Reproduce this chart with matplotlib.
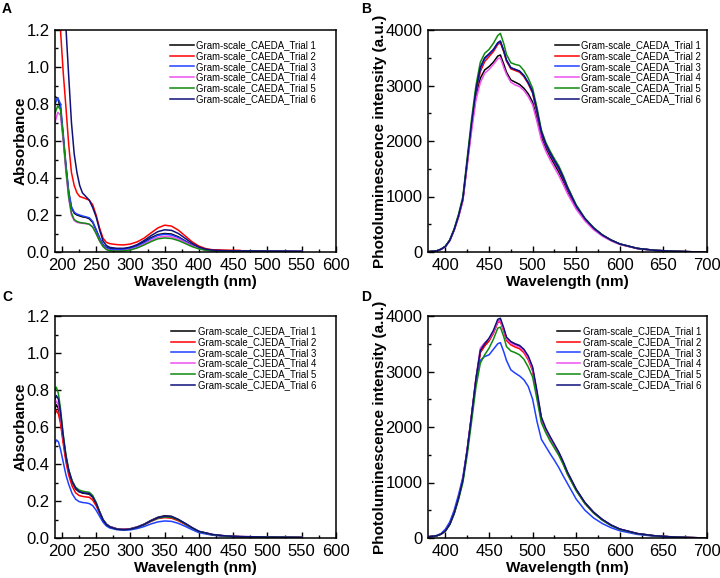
import numpy as np
import matplotlib
matplotlib.use('Agg')
import matplotlib.pyplot as plt
from matplotlib.ticker import MultipleLocator

plt.rcParams['font.family'] = ['Liberation Sans', 'DejaVu Sans']

# === DATA ===
nan = np.nan
colores = ['#000000', '#ff0000', '#2040ff', '#f050f0', '#108a10', '#10107a']

# A: UV-Vis, CAEDA
wl_a = [190, 194, 198, 202, 206, 210, 214, 218, 222, 226, 230, 235, 240, 245, 250, 255, 260, 265, 270,
        280, 290, 300, 310, 320, 330, 340, 350, 360, 370, 380, 390, 400, 410, 420, 440, 460, 500, 550]
caeda_uv_1 = [0.84, 0.83, 0.78, 0.62, 0.46, 0.32, 0.24, 0.21, 0.20, 0.195, 0.19, 0.187, 0.18, 0.16, 0.12, 0.075,
              0.04, 0.025, 0.018, 0.015, 0.016, 0.022, 0.035, 0.055, 0.077, 0.094, 0.10, 0.097, 0.082, 0.06,
              0.038, 0.022, 0.012, 0.008, 0.006, 0.005, 0.004, 0.003]
caeda_uv_2 = [1.6, 1.38, 1.2, 0.97, 0.78, 0.58, 0.43, 0.36, 0.32, 0.30, 0.295, 0.288, 0.28, 0.255, 0.20, 0.13,
              0.075, 0.052, 0.045, 0.04, 0.038, 0.043, 0.055, 0.075, 0.103, 0.13, 0.145, 0.14, 0.118, 0.087,
              0.055, 0.032, 0.018, 0.012, 0.01, 0.009, nan, nan]
caeda_uv_3 = [0.80, 0.835, 0.80, 0.64, 0.47, 0.33, 0.245, 0.215, 0.205, 0.20, 0.195, 0.19, 0.185, 0.165, 0.12,
              0.075, 0.04, 0.022, 0.015, 0.012, 0.013, 0.02, 0.032, 0.05, 0.072, 0.09, 0.096, 0.092, 0.078,
              0.057, 0.036, 0.02, 0.011, 0.007, 0.005, 0.004, 0.004, 0.003]
caeda_uv_4 = [0.70, 0.755, 0.74, 0.60, 0.43, 0.29, 0.20, 0.17, 0.16, 0.157, 0.155, 0.153, 0.15, 0.135, 0.10,
              0.06, 0.03, 0.015, 0.008, 0.006, 0.007, 0.013, 0.025, 0.042, 0.062, 0.079, 0.085, 0.082, 0.07,
              0.052, 0.033, 0.019, 0.01, 0.007, 0.005, 0.004, 0.003, 0.003]
caeda_uv_5 = [0.75, 0.79, 0.77, 0.62, 0.45, 0.30, 0.21, 0.175, 0.165, 0.16, 0.157, 0.155, 0.15, 0.135, 0.10,
              0.06, 0.03, 0.013, 0.007, 0.005, 0.006, 0.011, 0.022, 0.038, 0.056, 0.071, 0.076, 0.073, 0.062,
              0.046, 0.029, 0.017, 0.009, 0.006, 0.004, 0.004, 0.003, 0.002]
caeda_uv_6 = [1.9, 1.65, 1.45, 1.32, 1.21, 0.95, 0.70, 0.53, 0.43, 0.36, 0.32, 0.30, 0.28, 0.24, 0.19, 0.12,
              0.06, 0.035, 0.025, 0.02, 0.02, 0.026, 0.04, 0.062, 0.088, 0.11, 0.12, 0.117, 0.10, 0.074,
              0.047, 0.027, 0.015, 0.01, 0.007, 0.006, 0.005, 0.004]

# C: UV-Vis, CJEDA
wl_c = [190, 192, 195, 198, 202, 206, 210, 215, 220, 225, 230, 235, 240, 245, 250, 255, 260, 265, 270, 280,
        290, 300, 310, 320, 330, 340, 350, 360, 370, 380, 390, 400, 420, 440, 460, 500, 550]
cjeda_uv_1 = [0.70, 0.72, 0.70, 0.64, 0.53, 0.43, 0.36, 0.30, 0.265, 0.25, 0.243, 0.24, 0.237, 0.22, 0.185,
              0.14, 0.10, 0.075, 0.062, 0.05, 0.047, 0.05, 0.06, 0.075, 0.095, 0.112, 0.12, 0.117, 0.1, 0.078,
              0.055, 0.035, 0.018, 0.01, 0.007, 0.005, 0.003]
cjeda_uv_2 = [0.67, 0.69, 0.67, 0.62, 0.51, 0.41, 0.34, 0.28, 0.245, 0.23, 0.225, 0.222, 0.22, 0.205, 0.175,
              0.135, 0.097, 0.073, 0.06, 0.05, 0.047, 0.05, 0.058, 0.072, 0.09, 0.105, 0.11, 0.107, 0.093,
              0.073, 0.052, 0.033, 0.017, 0.01, 0.007, 0.005, 0.003]
cjeda_uv_3 = [0.51, 0.53, 0.52, 0.48, 0.41, 0.34, 0.29, 0.24, 0.21, 0.197, 0.192, 0.19, 0.186, 0.175, 0.15,
              0.118, 0.086, 0.065, 0.054, 0.045, 0.042, 0.044, 0.051, 0.062, 0.076, 0.087, 0.092, 0.09, 0.079,
              0.063, 0.045, 0.029, 0.015, 0.009, 0.006, 0.004, 0.003]
cjeda_uv_4 = [0.72, 0.74, 0.72, 0.66, 0.54, 0.44, 0.365, 0.305, 0.27, 0.255, 0.248, 0.245, 0.242, 0.225, 0.19,
              0.143, 0.1, 0.075, 0.062, 0.05, 0.047, 0.05, 0.06, 0.074, 0.093, 0.109, 0.116, 0.114, 0.099,
              0.078, 0.056, 0.036, 0.019, 0.011, 0.008, 0.005, 0.003]
cjeda_uv_5 = [0.80, 0.815, 0.78, 0.70, 0.56, 0.45, 0.37, 0.31, 0.275, 0.26, 0.253, 0.25, 0.247, 0.23, 0.193,
              0.145, 0.1, 0.074, 0.06, 0.048, 0.045, 0.048, 0.058, 0.072, 0.091, 0.107, 0.114, 0.112, 0.097,
              0.076, 0.054, 0.035, 0.018, 0.01, 0.007, 0.005, 0.003]
cjeda_uv_6 = [0.75, 0.77, 0.75, 0.68, 0.55, 0.44, 0.365, 0.305, 0.27, 0.252, 0.245, 0.242, 0.24, 0.222, 0.187,
              0.14, 0.098, 0.073, 0.06, 0.048, 0.045, 0.048, 0.058, 0.073, 0.093, 0.11, 0.118, 0.116, 0.1,
              0.079, 0.056, 0.036, 0.019, 0.011, 0.008, 0.005, 0.003]

# B y D: fotoluminiscencia
wl_pl = [380, 390, 395, 400, 405, 410, 415, 420, 425, 430, 435, 440, 445, 450, 455, 460, 463, 467, 470, 475,
         480, 485, 490, 495, 500, 505, 510, 515, 520, 525, 530, 535, 540, 550, 560, 570, 580, 590, 600, 620,
         640, 660, 680, 700]
caeda_pl_1 = [5, 20, 50, 100, 210, 400, 640, 940, 1600, 2250, 2800, 3130, 3280, 3340, 3420, 3530, 3550, 3380,
              3240, 3100, 3060, 3020, 2950, 2850, 2700, 2400, 2080, 1880, 1720, 1580, 1440, 1280, 1100, 800,
              580, 420, 300, 210, 140, 65, 30, 15, 5, 0]
caeda_pl_2 = [5, 20, 50, 100, 210, 400, 640, 950, 1620, 2280, 2880, 3250, 3430, 3520, 3610, 3740, 3770, 3600,
              3440, 3300, 3270, 3240, 3160, 3030, 2860, 2510, 2130, 1920, 1760, 1620, 1490, 1320, 1130, 820,
              590, 430, 305, 215, 145, 65, 30, 15, 5, 0]
caeda_pl_3 = [5, 20, 50, 100, 210, 400, 650, 960, 1630, 2300, 2900, 3300, 3480, 3560, 3640, 3760, 3800, 3620,
              3460, 3320, 3290, 3260, 3180, 3050, 2880, 2530, 2150, 1930, 1770, 1630, 1500, 1330, 1140, 820,
              590, 430, 305, 215, 145, 65, 30, 15, 5, 0]
caeda_pl_4 = [5, 18, 45, 95, 200, 390, 620, 920, 1560, 2180, 2740, 3050, 3220, 3290, 3380, 3480, 3500, 3320,
              3200, 3060, 3010, 2980, 2910, 2800, 2650, 2350, 2020, 1820, 1660, 1520, 1380, 1220, 1050, 770,
              560, 400, 285, 200, 135, 60, 28, 14, 5, 0]
caeda_pl_5 = [5, 20, 52, 105, 220, 420, 680, 1000, 1700, 2400, 3000, 3420, 3580, 3650, 3760, 3900, 3940, 3750,
              3560, 3410, 3380, 3360, 3270, 3130, 2950, 2600, 2200, 1980, 1820, 1680, 1550, 1380, 1180, 850,
              610, 440, 310, 215, 145, 65, 30, 15, 5, 0]
caeda_pl_6 = [5, 20, 50, 100, 210, 400, 650, 960, 1640, 2320, 2920, 3330, 3500, 3570, 3650, 3770, 3800, 3620,
              3460, 3320, 3290, 3260, 3180, 3050, 2890, 2550, 2170, 1950, 1790, 1650, 1520, 1350, 1160, 830,
              600, 430, 305, 215, 145, 65, 30, 15, 5, 0]

cjeda_pl_1 = [20, 40, 70, 130, 250, 450, 720, 1050, 1580, 2200, 2850, 3350, 3470, 3560, 3700, 3900, 3930, 3750,
              3600, 3520, 3480, 3450, 3380, 3250, 3050, 2600, 2150, 1950, 1800, 1660, 1530, 1360, 1170, 870,
              630, 460, 330, 230, 160, 80, 40, 20, 8, 0]
cjeda_pl_2 = [20, 40, 70, 130, 250, 450, 720, 1050, 1580, 2200, 2850, 3340, 3460, 3550, 3690, 3880, 3900, 3720,
              3560, 3480, 3440, 3410, 3340, 3210, 3010, 2570, 2120, 1930, 1780, 1640, 1510, 1340, 1150, 860,
              620, 450, 325, 225, 155, 78, 38, 19, 8, 0]
cjeda_pl_3 = [25, 45, 80, 160, 290, 500, 780, 1100, 1600, 2200, 2800, 3200, 3270, 3300, 3400, 3500, 3520, 3350,
              3200, 3030, 2970, 2920, 2850, 2730, 2500, 2100, 1780, 1650, 1520, 1400, 1270, 1120, 980, 700,
              500, 360, 260, 185, 130, 65, 32, 16, 6, 0]
cjeda_pl_4 = [20, 40, 70, 130, 250, 450, 720, 1060, 1600, 2230, 2880, 3420, 3520, 3580, 3710, 3900, 3920, 3740,
              3590, 3510, 3470, 3440, 3370, 3240, 3040, 2600, 2150, 1950, 1800, 1660, 1530, 1360, 1170, 870,
              630, 460, 330, 230, 160, 80, 40, 20, 8, 0]
cjeda_pl_5 = [20, 40, 70, 125, 240, 430, 690, 1000, 1500, 2100, 2720, 3150, 3300, 3420, 3580, 3780, 3800, 3620,
              3450, 3370, 3340, 3300, 3220, 3080, 2900, 2500, 2080, 1900, 1750, 1620, 1490, 1330, 1150, 850,
              620, 450, 320, 225, 155, 78, 38, 19, 8, 0]
cjeda_pl_6 = [20, 40, 70, 130, 250, 450, 720, 1050, 1590, 2220, 2870, 3380, 3500, 3600, 3740, 3940, 3960, 3780,
              3620, 3540, 3500, 3470, 3400, 3280, 3080, 2650, 2180, 1980, 1830, 1690, 1550, 1380, 1190, 880,
              640, 465, 335, 235, 162, 80, 40, 20, 8, 0]

etiquetas_caeda = ['Gram-scale_CAEDA_Trial %d' % i for i in range(1, 7)]
etiquetas_cjeda = ['Gram-scale_CJEDA_Trial %d' % i for i in range(1, 7)]


# === FUNCION DE PANEL ===
def dibujar_panel(ax, x, series, etiquetas, xlim, xmaj, ylim, ymaj, ylabel, yfmt, leg_anchor):
    for s, c, lab in zip(series, colores, etiquetas):
        ax.plot(x, s, color=c, lw=1.1, label=lab)
    ax.set_xlim(*xlim)
    ax.set_ylim(*ylim)
    ax.xaxis.set_major_locator(MultipleLocator(xmaj))
    ax.xaxis.set_minor_locator(MultipleLocator(xmaj / 2))
    ax.yaxis.set_major_locator(MultipleLocator(ymaj))
    ax.yaxis.set_minor_locator(MultipleLocator(ymaj / 2))
    ax.yaxis.set_major_formatter(plt.FuncFormatter(yfmt))
    ax.tick_params(which='both', direction='in', top=False, right=False, labelsize=12, width=1.0, pad=4)
    ax.tick_params(which='major', length=4.5)
    ax.tick_params(which='minor', length=2.5)
    for sp in ax.spines.values():
        sp.set_linewidth(1.1)
    ax.set_xlabel('Wavelength (nm)', fontsize=11, fontweight='bold', labelpad=2)
    ax.set_ylabel(ylabel, fontsize=11, fontweight='bold', labelpad=-1)
    ax.legend(loc='upper right', bbox_to_anchor=leg_anchor, frameon=False, fontsize=6.9,
              handlelength=2.5, handletextpad=0.25, labelspacing=0.08, borderaxespad=0.2)


fig = plt.figure(figsize=(7.2, 5.78), dpi=100)
axA = fig.add_axes([55 / 720, 1 - 252 / 578, 281 / 720, 222 / 578])
axB = fig.add_axes([428 / 720, 1 - 252 / 578, 279 / 720, 222 / 578])
axC = fig.add_axes([55 / 720, 1 - 538 / 578, 281 / 720, 222 / 578])
axD = fig.add_axes([428 / 720, 1 - 538 / 578, 279 / 720, 222 / 578])

fmt_abs = lambda v, p: '%.1f' % v
fmt_pl = lambda v, p: '%d' % v

dibujar_panel(axA, wl_a, [caeda_uv_1, caeda_uv_2, caeda_uv_3, caeda_uv_4, caeda_uv_5, caeda_uv_6],
              etiquetas_caeda, (190, 600), 50, (0, 1.2), 0.2, 'Absorbance', fmt_abs, (0.95, 0.98))
dibujar_panel(axB, wl_pl, [caeda_pl_1, caeda_pl_2, caeda_pl_3, caeda_pl_4, caeda_pl_5, caeda_pl_6],
              etiquetas_caeda, (380, 700), 50, (0, 4000), 1000, 'Photoluminescence intensity (a.u.)', fmt_pl,
              (1.0, 0.98))
dibujar_panel(axC, wl_c, [cjeda_uv_1, cjeda_uv_2, cjeda_uv_3, cjeda_uv_4, cjeda_uv_5, cjeda_uv_6],
              etiquetas_cjeda, (190, 600), 50, (0, 1.2), 0.2, 'Absorbance', fmt_abs, (0.95, 0.98))
dibujar_panel(axD, wl_pl, [cjeda_pl_1, cjeda_pl_2, cjeda_pl_3, cjeda_pl_4, cjeda_pl_5, cjeda_pl_6],
              etiquetas_cjeda, (380, 700), 50, (0, 4000), 1000, 'Photoluminescence intensity (a.u.)', fmt_pl,
              (1.0, 0.98))

# letras de panel
for letra, (px, py) in zip('ABCD', [(2, 2), (361, 2), (2, 290), (361, 290)]):
    fig.text(px / 720, 1 - py / 578, letra, fontsize=10, fontweight='bold', va='top', ha='left')

fig.savefig('out.png', dpi=100)
